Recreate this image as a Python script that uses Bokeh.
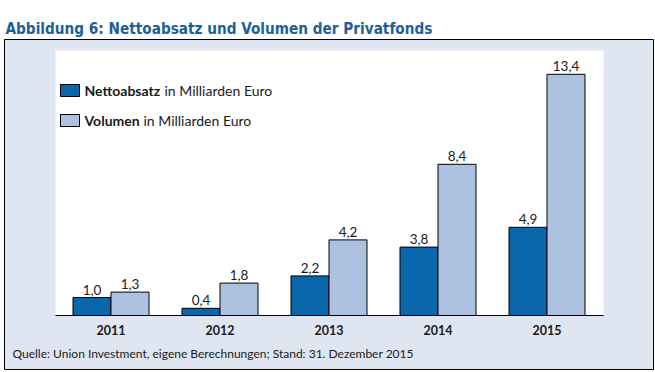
from bokeh.plotting import figure
from bokeh.models import Range1d
from bokeh.embed import file_html
from bokeh.resources import INLINE
from bokeh.core.properties import value

# ---- data ----
years = ["2011", "2012", "2013", "2014", "2015"]
netto = [1.0, 0.4, 2.2, 3.8, 4.9]
volumen = [1.3, 1.8, 4.2, 8.4, 13.4]
netto_labels = ["1,0", "0,4", "2,2", "3,8", "4,9"]
volumen_labels = ["1,3", "1,8", "4,2", "8,4", "13,4"]
series_names = ["Nettoabsatz", "Volumen"]
legend_suffix = ["in Milliarden Euro", "in Milliarden Euro"]
title_text = "Abbildung 6: Nettoabsatz und Volumen der Privatfonds"
source_note = "Quelle: Union Investment, eigene Berechnungen; Stand: 31. Dezember 2015"

# ---- styles ----
DARK = "#0a66ab"
LIGHT = "#adc1e0"
PANEL = "#dfe6f1"
TITLE_COLOR = "#1d5f97"
SANS = "Lato"
TEXT_COLOR = "#1a1a1a"

# ---- layout geometry (page pixels) ----
W, H = 654, 371
FRAME_L, FRAME_T = 4, 39
FRAME_W, FRAME_H = 649, 330
PX_X = 109.0      # pixels per category step
PX_Y = 18.0       # pixels per unit value
G0 = 110.5        # page x of first group centre
BASE = 315.0      # page y of zero line
BAR_W = 38.0 / PX_X


def dx(px):
    return (px - G0) / PX_X


def dy(py):
    return (BASE - py) / PX_Y


p = figure(width=W, height=H, output_backend="svg", toolbar_location=None,
           x_range=Range1d(dx(FRAME_L), dx(FRAME_L + FRAME_W)),
           y_range=Range1d(dy(FRAME_T + FRAME_H), dy(FRAME_T)),
           x_axis_location=None, y_axis_location=None,
           min_border_left=FRAME_L, min_border_right=W - FRAME_L - FRAME_W,
           min_border_top=FRAME_T, min_border_bottom=H - FRAME_T - FRAME_H)
p.grid.visible = False
p.background_fill_color = PANEL
p.border_fill_color = "white"
p.outline_line_color = "black"
p.outline_line_width = 1

p.title.text = title_text
p.title.text_font = "DejaVu Sans Condensed"
p.title.text_font_style = "bold"
p.title.text_font_size = "15.2px"
p.title.text_color = TITLE_COLOR
p.title.align = "left"
p.title.offset = 1
p.title.standoff = 4

# white inner panel and zero line
p.quad(left=[dx(55)], right=[dx(603)], bottom=[0], top=[dy(50)],
       fill_color="white", line_color=None)
p.segment(x0=[dx(55)], x1=[dx(603)], y0=[0], y1=[0], line_color="black", line_width=1.2)

xs = list(range(len(years)))
x_dark = [x - BAR_W / 2 for x in xs]
x_light = [x + BAR_W / 2 for x in xs]

p.vbar(x=x_dark, top=netto, bottom=0, width=BAR_W, fill_color=DARK, line_color="black", line_width=1)
p.vbar(x=x_light, top=volumen, bottom=0, width=BAR_W, fill_color=LIGHT, line_color="black", line_width=1)

lbl = dict(text_align="center", text_baseline="alphabetic", y_offset=-8,
           text_font=value(SANS), text_font_size="13.5px", text_color=TEXT_COLOR)
p.text(x=x_dark, y=netto, text=netto_labels, **lbl)
p.text(x=x_light, y=volumen, text=volumen_labels, **lbl)

# category labels
p.text(x=xs, y=[dy(329)] * len(xs), text=years, text_align="center", text_baseline="middle",
       text_font=value(SANS), text_font_style="bold", text_font_size="12.5px", text_color=TEXT_COLOR)

# legend
leg_y = [dy(90), dy(120)]
p.rect(x=[dx(69.5)] * 2, y=leg_y, width=19, height=12, width_units="screen", height_units="screen",
       fill_color=[DARK, LIGHT], line_color="black", line_width=1)
p.text(x=[dx(84)] * 2, y=leg_y, text=series_names, text_baseline="middle",
       text_font=value(SANS), text_font_style="bold", text_font_size="14px", text_color=TEXT_COLOR)
p.text(x=[dx(164), dx(143)], y=leg_y, text=legend_suffix, text_baseline="middle",
       text_font=value(SANS), text_font_size="14px", text_color=TEXT_COLOR)

# source
p.text(x=[dx(12)], y=[dy(353)], text=[source_note], text_baseline="middle",
       text_font=value(SANS), text_font_size="12px", text_color=TEXT_COLOR)

open("out.html", "w").write(file_html(p, INLINE))
